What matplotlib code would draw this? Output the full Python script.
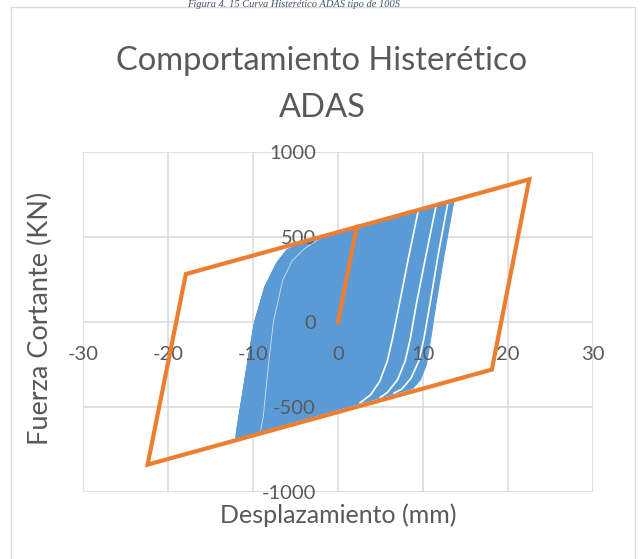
import matplotlib.pyplot as plt
import numpy as np

plt.rcParams['font.family'] = ['Lato', 'DejaVu Sans']
plt.rcParams['axes.unicode_minus'] = False

# modelo bilineal (naranja)
bil_x = [0, 2.2, 22.5, 18.1, -22.4, -17.9, 2.2]
bil_y = [0, 559, 839, -280, -839, 282, 559]

# ramas de descarga (pico positivo -> envolvente inferior), ciclos externos
desc1_x = [9.4, 8.3, 7.2, 6.4, 5.8, 4.9, 3.8, 2.6]
desc1_y = [645, 380, 100, -100, -230, -350, -430, -475]
desc2_x = [11.5, 10.3, 9.2, 8.5, 7.9, 7.0, 5.8, 5.0]
desc2_y = [674, 380, 100, -100, -230, -340, -415, -442]
desc3_x = [12.9, 11.8, 10.8, 10.1, 9.5, 8.6, 7.5, 6.6]
desc3_y = [694, 400, 100, -100, -230, -330, -395, -418]
desc4_x = [13.6, 12.5, 11.5, 10.9, 10.4, 9.7, 8.8, 8.0]
desc4_y = [703, 400, 100, -100, -250, -340, -390, -403]

# ramas de recarga (pico negativo -> envolvente superior)
asc1_x = [-9.1, -8.8, -8.2, -7.6, -6.5, -5.4, -4.0, -2.4]
asc1_y = [-636, -560, -260, 0, 247, 360, 430, 482]
asc_x = [-12.0, -11.9, -11.3, -10.5, -9.8, -8.6, -7.2, -6.0, -4.8]
asc_y = [-680, -635, -450, -200, 0, 206, 347, 424, 450]

loops = [(desc4_x, desc4_y, asc_x, asc_y),
         (desc3_x, desc3_y, asc_x, asc_y),
         (desc2_x, desc2_y, asc_x, asc_y),
         (desc1_x, desc1_y, asc1_x, asc1_y)]

xticks = [-30, -20, -10, 0, 10, 20, 30]
yticks = [-1000, -500, 0, 500, 1000]

blue = '#5B9BD5'
orange = '#ED7D31'
gcol = '#D9D9D9'
tcol = '#595959'

fig = plt.figure(figsize=(6.43, 5.59), dpi=100)
ax = fig.add_axes([83/643, 67/559, 510/643, 340/559])

# borde del area del grafico
fig.patches.append(plt.Rectangle((11/643, -0.05), 624/643, 1.05 - 7/559,
                                 transform=fig.transFigure, fill=False,
                                 edgecolor=gcol, lw=1.0))

for v in xticks:
    ax.axvline(v, color=gcol, lw=1.1, zorder=0)
for v in yticks:
    ax.axhline(v, color=gcol, lw=1.1, zorder=0)

for dx, dy, axx, ayy in loops:
    px = dx + axx
    py = dy + ayy
    ax.fill(px, py, color=blue, lw=0.8, ec=blue, zorder=1)
for dx, dy, axx, ayy in loops[1:]:
    ax.plot(dx, dy, color='white', lw=1.2, zorder=1.2)
ax.plot(asc1_x, asc1_y, color='white', lw=0.6, alpha=0.7, zorder=1.2)

ax.plot(bil_x, bil_y, color=orange, lw=3, solid_joinstyle='miter', zorder=2)

ax.set_xlim(-30, 30)
ax.set_ylim(-1000, 1000)
ax.set_xticks(xticks)
ax.set_yticks(yticks)
ax.spines['left'].set_position(('data', 0))
ax.spines['bottom'].set_position(('data', 0))
for s in ax.spines.values():
    s.set_visible(False)
ax.tick_params(axis='x', length=0, pad=17, labelsize=14.5, labelcolor=tcol)
ax.tick_params(axis='y', length=0, pad=16, labelsize=14.5, labelcolor=tcol)

fig.text(338/643, 1 - 523/559, 'Desplazamiento (mm)', ha='center', va='baseline',
         fontsize=18, color=tcol)
fig.text(40/643, 1 - 318/559, 'Fuerza Cortante (KN)', ha='center', va='center',
         rotation=90, fontsize=19.5, color=tcol)
fig.text(322/643, 1 - 61/559, 'Comportamiento Histerético', ha='center', va='center',
         fontsize=23.5, color=tcol)
fig.text(322/643, 1 - 108/559, 'ADAS', ha='center', va='center',
         fontsize=23.5, color=tcol)

# pie de figura (arriba)
fig.text(294/643, 1.0, 'Figura 4. 15 Curva Histerético ADAS tipo de 100S',
         ha='center', va='top', fontsize=7.5, style='italic',
         family='Liberation Serif', color='#44546A')

fig.savefig('out.png', dpi=100)
